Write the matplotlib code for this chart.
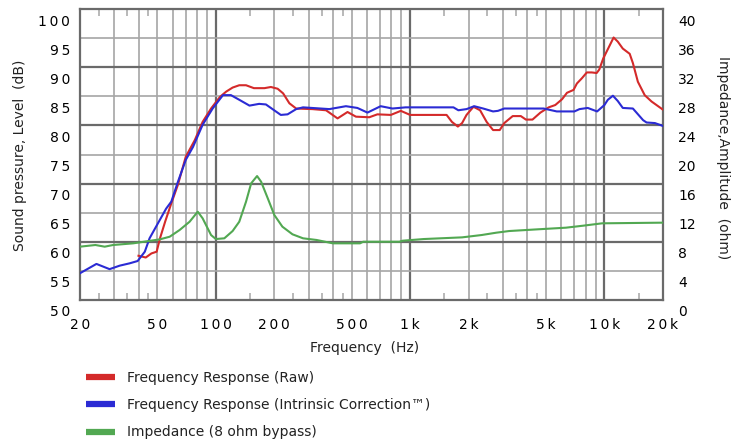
import matplotlib
matplotlib.use("Agg")
import matplotlib.pyplot as plt
import matplotlib.transforms as mtransforms
from matplotlib.lines import Line2D
import numpy as np

# ---- data ----
raw_freq = [40, 43.6, 46.6, 49.6, 51.6, 54.9, 59, 63.8, 70, 78, 85.5, 94.5, 105, 113, 122, 132,
            143, 157, 178, 192, 208, 222, 239, 259, 314, 369, 423, 476, 526, 616, 678, 795, 895,
            1000, 1540, 1640, 1760, 1850, 1950, 2117, 2290, 2475, 2670, 2890, 3050, 3370, 3710,
            3940, 4260, 4680, 5160, 5580, 6050, 6410, 6930, 7210, 7650, 8110, 8600, 9110, 9400,
            9850, 10440, 11140, 11700, 12420, 13480, 14000, 14850, 16100, 17470, 20000]
raw_db = [57.6, 57.3, 58.0, 58.3, 60.6, 63.5, 66.6, 69.8, 74.6, 77.5, 80.6, 82.9, 84.9, 85.8, 86.5, 86.9,
          86.9, 86.4, 86.4, 86.6, 86.3, 85.5, 83.8, 82.9, 82.8, 82.6, 81.2, 82.3, 81.5, 81.4, 81.9, 81.8, 82.5,
          81.8, 81.8, 80.6, 79.8, 80.4, 81.8, 83.2, 82.6, 80.6, 79.2, 79.2, 80.4, 81.6, 81.6,
          81.0, 81.0, 82.2, 83.1, 83.5, 84.5, 85.6, 86.1, 87.2, 88.1, 89.1, 89.1, 89.0, 89.6,
          91.5, 93.2, 95.1, 94.4, 93.2, 92.3, 90.7, 87.5, 85.2, 84.1, 82.7]

corr_freq = [20, 24.3, 28.4, 32, 36, 39.6, 43.1, 45.6, 50.4, 55.5, 59, 63.8, 70.1, 76.3, 85.5, 96.3,
             108.8, 119.6, 132, 149, 167, 181, 199.6, 216, 234, 259, 281, 384, 467, 535, 603, 705,
             811, 947, 1670, 1770, 1950, 2135, 2376, 2670, 2830, 3050, 4865, 5680, 7000, 7440, 8200,
             9160, 9990, 10400, 11050, 11700, 12420, 14000, 15800, 16460, 18170, 20000]
corr_db = [54.6, 56.2, 55.3, 55.9, 56.3, 56.7, 58.3, 60.6, 63.2, 65.7, 66.9, 70.3, 74.1, 76.3, 80.1, 82.9,
           85.2, 85.2, 84.4, 83.4, 83.7, 83.6, 82.6, 81.8, 81.9, 82.8, 83.1, 82.8, 83.3, 83.0, 82.2, 83.3,
           82.9, 83.1, 83.1, 82.6, 82.8, 83.3, 82.9, 82.4, 82.5, 82.9, 82.9, 82.4, 82.4, 82.8, 83.0,
           82.4, 83.5, 84.4, 85.1, 84.2, 83.0, 82.9, 80.9, 80.5, 80.4, 79.9]

imp_freq = [20, 24, 26.8, 29.6, 37.6, 51.6, 57.9, 65.1, 73.3, 80.7, 85.5, 94.5, 100, 110.6, 122, 132,
            143, 152, 163, 171, 185, 200, 220, 248, 281, 330, 400, 552, 573, 880, 914, 1175, 1850,
            2330, 2770, 3230, 4500, 6330, 7740, 9720, 20000]
imp_ohm = [7.33, 7.56, 7.33, 7.56, 7.79, 8.34, 8.70, 9.62, 10.76, 12.14, 11.23, 8.93, 8.38, 8.48, 9.48, 10.76,
           13.51, 16.04, 17.04, 16.26, 13.98, 11.68, 10.08, 9.03, 8.48, 8.25, 7.79, 7.79, 8.01, 8.01, 8.15, 8.38, 8.61,
           8.93, 9.25, 9.48, 9.71, 9.94, 10.21, 10.54, 10.63]

x_grid = [20, 30, 40, 50, 60, 70, 80, 90, 100, 200, 300, 400, 500, 600, 700, 800, 900,
          1000, 2000, 3000, 4000, 5000, 6000, 7000, 8000, 9000, 10000, 20000]
x_dark = [100, 1000, 10000]
x_short = [25, 35, 45, 150, 250, 350, 450, 1500, 2500, 3500, 4500, 15000]
x_labels = {20: "20", 50: "50", 100: "100", 200: "200", 500: "500", 1000: "1k",
            2000: "2k", 5000: "5k", 10000: "10k", 20000: "20k"}
db_ticks = [50, 55, 60, 65, 70, 75, 80, 85, 90, 95, 100]
db_dark = [60, 70, 80, 90]
ohm_ticks = [0, 4, 8, 12, 16, 20, 24, 28, 32, 36, 40]

series_labels = ["Frequency Response (Raw)",
                 "Frequency Response (Intrinsic Correction\u2122)",
                 "Impedance (8 ohm bypass)"]
colors = ["#d42a2a", "#2b2bd4", "#52a852"]

TS = "\u2009"
def spaced(s):
    return TS.join(list(s))

fig = plt.figure(figsize=(7.5, 4.46), dpi=100)
ax = fig.add_axes([80/750, 1-300/446, (663-80)/750, (300-9)/446])
ax.set_xscale("log")
ax.set_xlim(20, 20000)
ax.set_ylim(50, 100)

LIGHT = "#a6a6a6"
DARK = "#6a6a6a"

ax.set_xticks(x_grid)
ax.set_xticklabels([spaced(x_labels[v]) if v in x_labels else "" for v in x_grid])
ax.set_xticks(x_short, minor=True)
ax.xaxis.set_minor_formatter(matplotlib.ticker.NullFormatter())
ax.tick_params(axis="x", which="major", length=0, pad=13, labelsize=10)
ax.tick_params(axis="x", which="minor", direction="in", length=5, width=1.1,
               color=LIGHT, top=True, bottom=True)
ax.grid(True, axis="x", which="major")
for tick, v in zip(ax.xaxis.get_major_ticks(), x_grid):
    gl = tick.gridline
    if v in x_dark:
        gl.set_color(DARK); gl.set_linewidth(1.6)
    else:
        gl.set_color(LIGHT); gl.set_linewidth(1.2)

ax.set_yticks(db_ticks)
ax.set_yticklabels([spaced(str(v)) for v in db_ticks])
ax.tick_params(axis="y", which="major", length=0, pad=7, labelsize=10)
ax.grid(True, axis="y", which="major")
for tick, v in zip(ax.yaxis.get_major_ticks(), db_ticks):
    gl = tick.gridline
    if v in db_dark:
        gl.set_color(DARK); gl.set_linewidth(1.6)
    else:
        gl.set_color(LIGHT); gl.set_linewidth(1.2)
ax.set_axisbelow(True)

offset = mtransforms.ScaledTranslation(0, -11/100, fig.dpi_scale_trans)
for lab in ax.get_yticklabels():
    lab.set_transform(lab.get_transform() + offset)

for sp in ax.spines.values():
    sp.set_color(DARK); sp.set_linewidth(1.6)

ax.plot(raw_freq, raw_db, color=colors[0], lw=1.5, zorder=3)
ax.plot(corr_freq, corr_db, color=colors[1], lw=1.5, zorder=4)

ax2 = ax.twinx()
ax2.set_ylim(0, 40)
ax2.set_yticks(ohm_ticks)
ax2.tick_params(axis="y", length=0, pad=11, labelsize=10)
for lab in ax2.get_yticklabels():
    lab.set_transform(lab.get_transform() + offset)
for sp in ax2.spines.values():
    sp.set_visible(False)
ax2.plot(imp_freq, imp_ohm, color=colors[2], lw=1.5, zorder=5)

fig.text(20/750, 1-155/446, "Sound pressure, Level  (dB)", rotation=90,
         ha="center", va="center", fontsize=10, color="#222222")
fig.text(723/750, 1-158/446, "Impedance,Amplitude  (ohm)", rotation=-90,
         ha="center", va="center", fontsize=10, color="#222222")
fig.text(365/750, 1-348/446, "Frequency  (Hz)", ha="center", va="center",
         fontsize=10, color="#222222")

handles = [Line2D([], [], color=c, lw=4.5, solid_capstyle="butt") for c in colors]
fig.legend(handles, series_labels, loc="upper left", bbox_to_anchor=(86/750, 1-371/446),
           frameon=False, fontsize=10, handlelength=2.1, handletextpad=0.85,
           labelspacing=0.95, borderpad=0, borderaxespad=0, labelcolor="#222222")

fig.savefig("out.png", dpi=100, facecolor="white")
